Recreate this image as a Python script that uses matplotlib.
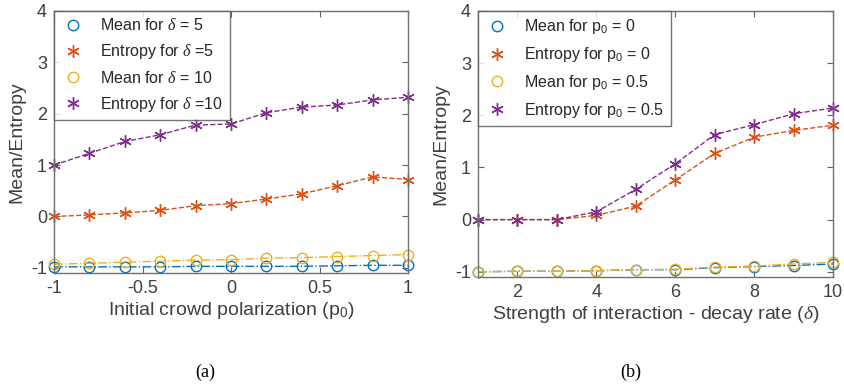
import matplotlib.pyplot as plt
import numpy as np

plt.rcParams['font.family'] = ['Liberation Sans', 'DejaVu Sans']
plt.rcParams['mathtext.fontset'] = 'custom'
plt.rcParams['mathtext.rm'] = 'Liberation Sans'
plt.rcParams['mathtext.it'] = 'Liberation Serif:italic'

BLUE = '#0072BD'
ORANGE = '#D95319'
YELLOW = '#EDB120'
PURPLE = '#7E2F8E'
GREY = '#404040'
ASTERISK = (6, 2, 0)

# left panel: sweep over initial polarization p0
p0 = np.linspace(-1, 1, 11)
mean_d5 = [-0.98, -0.98, -0.98, -0.98, -0.97, -0.97, -0.97, -0.97, -0.96, -0.95, -0.95]
ent_d5 = [0.00, 0.03, 0.07, 0.12, 0.21, 0.25, 0.34, 0.44, 0.60, 0.77, 0.72]
mean_d10 = [-0.93, -0.91, -0.89, -0.87, -0.85, -0.84, -0.81, -0.80, -0.78, -0.76, -0.74]
ent_d10 = [1.00, 1.23, 1.46, 1.59, 1.78, 1.80, 2.02, 2.13, 2.17, 2.27, 2.32]

# right panel: sweep over decay rate delta
delta = np.arange(1, 11)
mean_p0 = [-1.00, -0.99, -0.99, -0.98, -0.96, -0.96, -0.92, -0.90, -0.88, -0.85]
ent_p0 = [0.00, 0.00, 0.00, 0.08, 0.26, 0.76, 1.27, 1.58, 1.71, 1.81]
mean_p05 = [-1.00, -0.99, -0.99, -0.98, -0.96, -0.95, -0.91, -0.89, -0.85, -0.82]
ent_p05 = [0.00, 0.00, 0.00, 0.15, 0.58, 1.07, 1.63, 1.82, 2.03, 2.14]


def draw_panel(ax, x, series, labels, xlabel):
    styles = [(BLUE, 'o', '-.'), (ORANGE, ASTERISK, '--'), (YELLOW, 'o', '-.'), (PURPLE, ASTERISK, '--')]
    for y, lab, (c, m, ls) in zip(series, labels, styles):
        ax.plot(x, y, ls, color=c, lw=1.0)
        if m == 'o':
            ax.plot(x, y, 'o', mfc='none', mec=c, ms=7.5, mew=1.0, label=lab, clip_on=False)
        else:
            ax.plot(x, y, marker=m, ls='none', color=c, ms=9, mew=1.0, label=lab, clip_on=False)
    ax.set_ylim(-1.1, 4)
    ax.set_yticks([-1, 0, 1, 2, 3, 4])
    ax.set_xlabel(xlabel, fontsize=14, color=GREY, labelpad=2)
    ax.set_ylabel('Mean/Entropy', fontsize=14, color=GREY, labelpad=4)
    ax.tick_params(direction='in', top=True, right=True, length=4, width=0.8,
                   colors='#606060', labelcolor=GREY, labelsize=13, pad=5)
    for s in ax.spines.values():
        s.set_color('#707070')
        s.set_linewidth(1.0)
    leg = ax.legend(loc='upper left', fontsize=11.5, frameon=True, fancybox=False,
                    handletextpad=0.9, borderaxespad=0.0, labelspacing=0.55,
                    handlelength=1.6, borderpad=0.4)
    leg.get_frame().set_edgecolor('#505050')
    leg.get_frame().set_linewidth(1.0)
    for t in leg.get_texts():
        t.set_color('#262626')


fig = plt.figure(figsize=(8.44, 3.84), dpi=100)
ax1 = fig.add_axes([54 / 844, 1 - 273 / 384, 354 / 844, 262 / 384])
ax2 = fig.add_axes([478 / 844, 1 - 277 / 384, 355 / 844, 266 / 384])

draw_panel(ax1, p0, [mean_d5, ent_d5, mean_d10, ent_d10],
           ['Mean for $\\delta$ = 5', 'Entropy for $\\delta$ =5',
            'Mean for $\\delta$ = 10', 'Entropy for $\\delta$ =10'],
           'Initial crowd polarization (p$_0$)')
ax1.set_xlim(-1, 1)
ax1.set_xticks([-1, -0.5, 0, 0.5, 1])
ax1.set_xticklabels(['-1', '-0.5', '0', '0.5', '1'])
ax1.set_yticklabels(['-1', '0', '1', '2', '3', '4'])

draw_panel(ax2, delta, [mean_p0, ent_p0, mean_p05, ent_p05],
           ['Mean for p$_0$ = 0', 'Entropy for p$_0$ = 0',
            'Mean for p$_0$ = 0.5', 'Entropy for p$_0$ = 0.5'],
           'Strength of interaction - decay rate ($\\delta$)')
ax2.set_xlim(1, 10)
ax2.set_xticks([2, 4, 6, 8, 10])
ax2.set_yticklabels(['-1', '0', '1', '2', '3', '4'])

fig.text(205 / 844, 1 - 372 / 384, '(a)', ha='center', va='center',
         fontsize=13, family='Liberation Serif', color='black')
fig.text(631 / 844, 1 - 372 / 384, '(b)', ha='center', va='center',
         fontsize=13, family='Liberation Serif', color='black')

fig.savefig('out.png', dpi=100)
